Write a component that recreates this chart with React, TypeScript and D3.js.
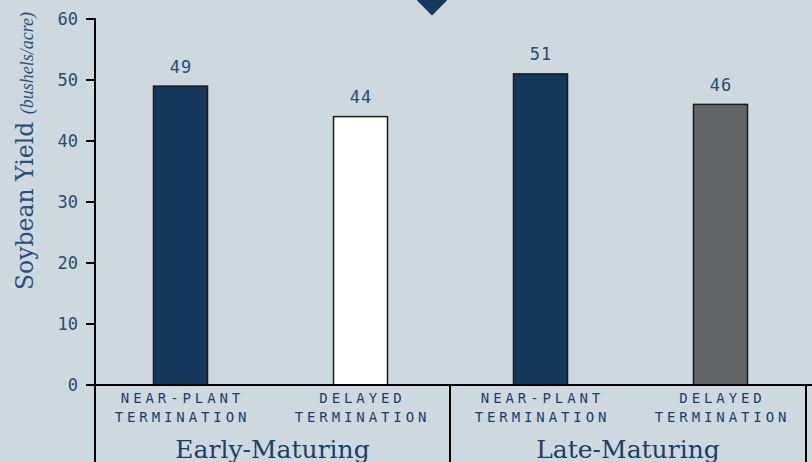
import React from "react";
import * as d3 from "d3";

// Soybean yield by cover-crop termination timing and maturity group
const groups = ["Early-Maturing", "Late-Maturing"];
const treatments = ["NEAR-PLANT|TERMINATION", "DELAYED|TERMINATION"];
const barKeys = ["early-near", "early-delayed", "late-near", "late-delayed"];
const barGroup = [0, 0, 1, 1];
const barTreatment = [0, 1, 0, 1];
const yieldValues = [49, 44, 51, 46];
const barColors = ["#14375c", "#ffffff", "#14375c", "#636466"];
const yTicks = [0, 10, 20, 30, 40, 50, 60];

const W = 812;
const H = 462;
const BG = "#cdd8df";
const TEXT = "#1b3f66";
const MONO = "'DejaVu Sans Mono', monospace";
const SERIF = "'DejaVu Serif', serif";

export default function App() {
  const axisX = 95;
  const axisY = 385;
  const rightX = 806;

  const x = d3
    .scaleBand<string>()
    .domain(barKeys)
    .range([90.5, 810.5])
    .paddingInner(0.7)
    .paddingOuter(0.35);

  const y = d3.scaleLinear().domain([0, 60]).range([axisY, 19]);

  // group dividers: left axis, middle, right edge
  const dividers = [axisX, 450, rightX];

  const diamond = d3.symbol().type(d3.symbolSquare).size(2 * 15 * 15)();

  return (
    <div style={{ position: "absolute", left: 0, top: 0, width: W, height: H, overflow: "hidden" }}>
      <svg width={W} height={H} style={{ display: "block" }}>
        <rect width={W} height={H} fill={BG} />

        {/* marker at top */}
        <path d={diamond || ""} transform="translate(432,0.5) rotate(45)" fill="#143a5e" />

        {/* y axis title */}
        <text
          transform={`translate(33,151) rotate(-90)`}
          textAnchor="middle"
          fill="#2a5079"
          fontFamily={SERIF}
          fontSize={23.5}
        >
          Soybean Yield{" "}
          <tspan fontStyle="italic" fontSize={18} fontFamily="'Liberation Serif', serif">
            (bushels/acre)
          </tspan>
        </text>

        {/* y ticks */}
        {yTicks.map((t) => (
          <g key={t}>
            <line x1={axisX - 9} x2={axisX} y1={y(t)} y2={y(t)} stroke="#000" strokeWidth={2} />
            <text
              x={78}
              y={y(t)}
              dy="0.36em"
              textAnchor="end"
              fill="#2a4d70"
              fontFamily={MONO}
              fontSize={17}
            >
              {t}
            </text>
          </g>
        ))}

        {/* bars */}
        {barKeys.map((k, i) => {
          const v = yieldValues[i];
          const bx = x(k) as number;
          const bw = x.bandwidth();
          return (
            <g key={k}>
              <rect
                x={bx}
                y={y(v)}
                width={bw}
                height={axisY - y(v)}
                fill={barColors[i]}
                stroke="#1a1a1a"
                strokeWidth={1.5}
              />
              <text
                x={bx + bw / 2 + 0.5}
                y={y(v) - 13.5}
                textAnchor="middle"
                fill="#2a4d70"
                fontFamily={MONO}
                fontSize={17}
                letterSpacing={1}
              >
                {v}
              </text>
              {treatments[barTreatment[i]].split("|").map((line, j) => (
                <text
                  key={j}
                  x={bx + bw / 2 + 2}
                  y={402.5 + j * 19.3}
                  textAnchor="middle"
                  fill={TEXT}
                  fontFamily={MONO}
                  fontSize={14}
                  letterSpacing={3.9}
                >
                  {line}
                </text>
              ))}
            </g>
          );
        })}

        {/* axes */}
        <line x1={axisX} x2={axisX} y1={18} y2={H} stroke="#000" strokeWidth={2} />
        <line x1={axisX - 9} x2={W} y1={axisY} y2={axisY} stroke="#000" strokeWidth={2} />
        {dividers.slice(1).map((dx) => (
          <line key={dx} x1={dx} x2={dx} y1={axisY} y2={H} stroke="#000" strokeWidth={2} />
        ))}

        {/* group labels */}
        {groups.map((g, gi) => {
          const cx = (dividers[gi] + dividers[gi + 1]) / 2;
          return (
            <text
              key={g}
              x={cx}
              y={458}
              textAnchor="middle"
              fill={TEXT}
              fontFamily={SERIF}
              fontSize={25}
            >
              {g}
            </text>
          );
        })}
      </svg>
    </div>
  );
}
